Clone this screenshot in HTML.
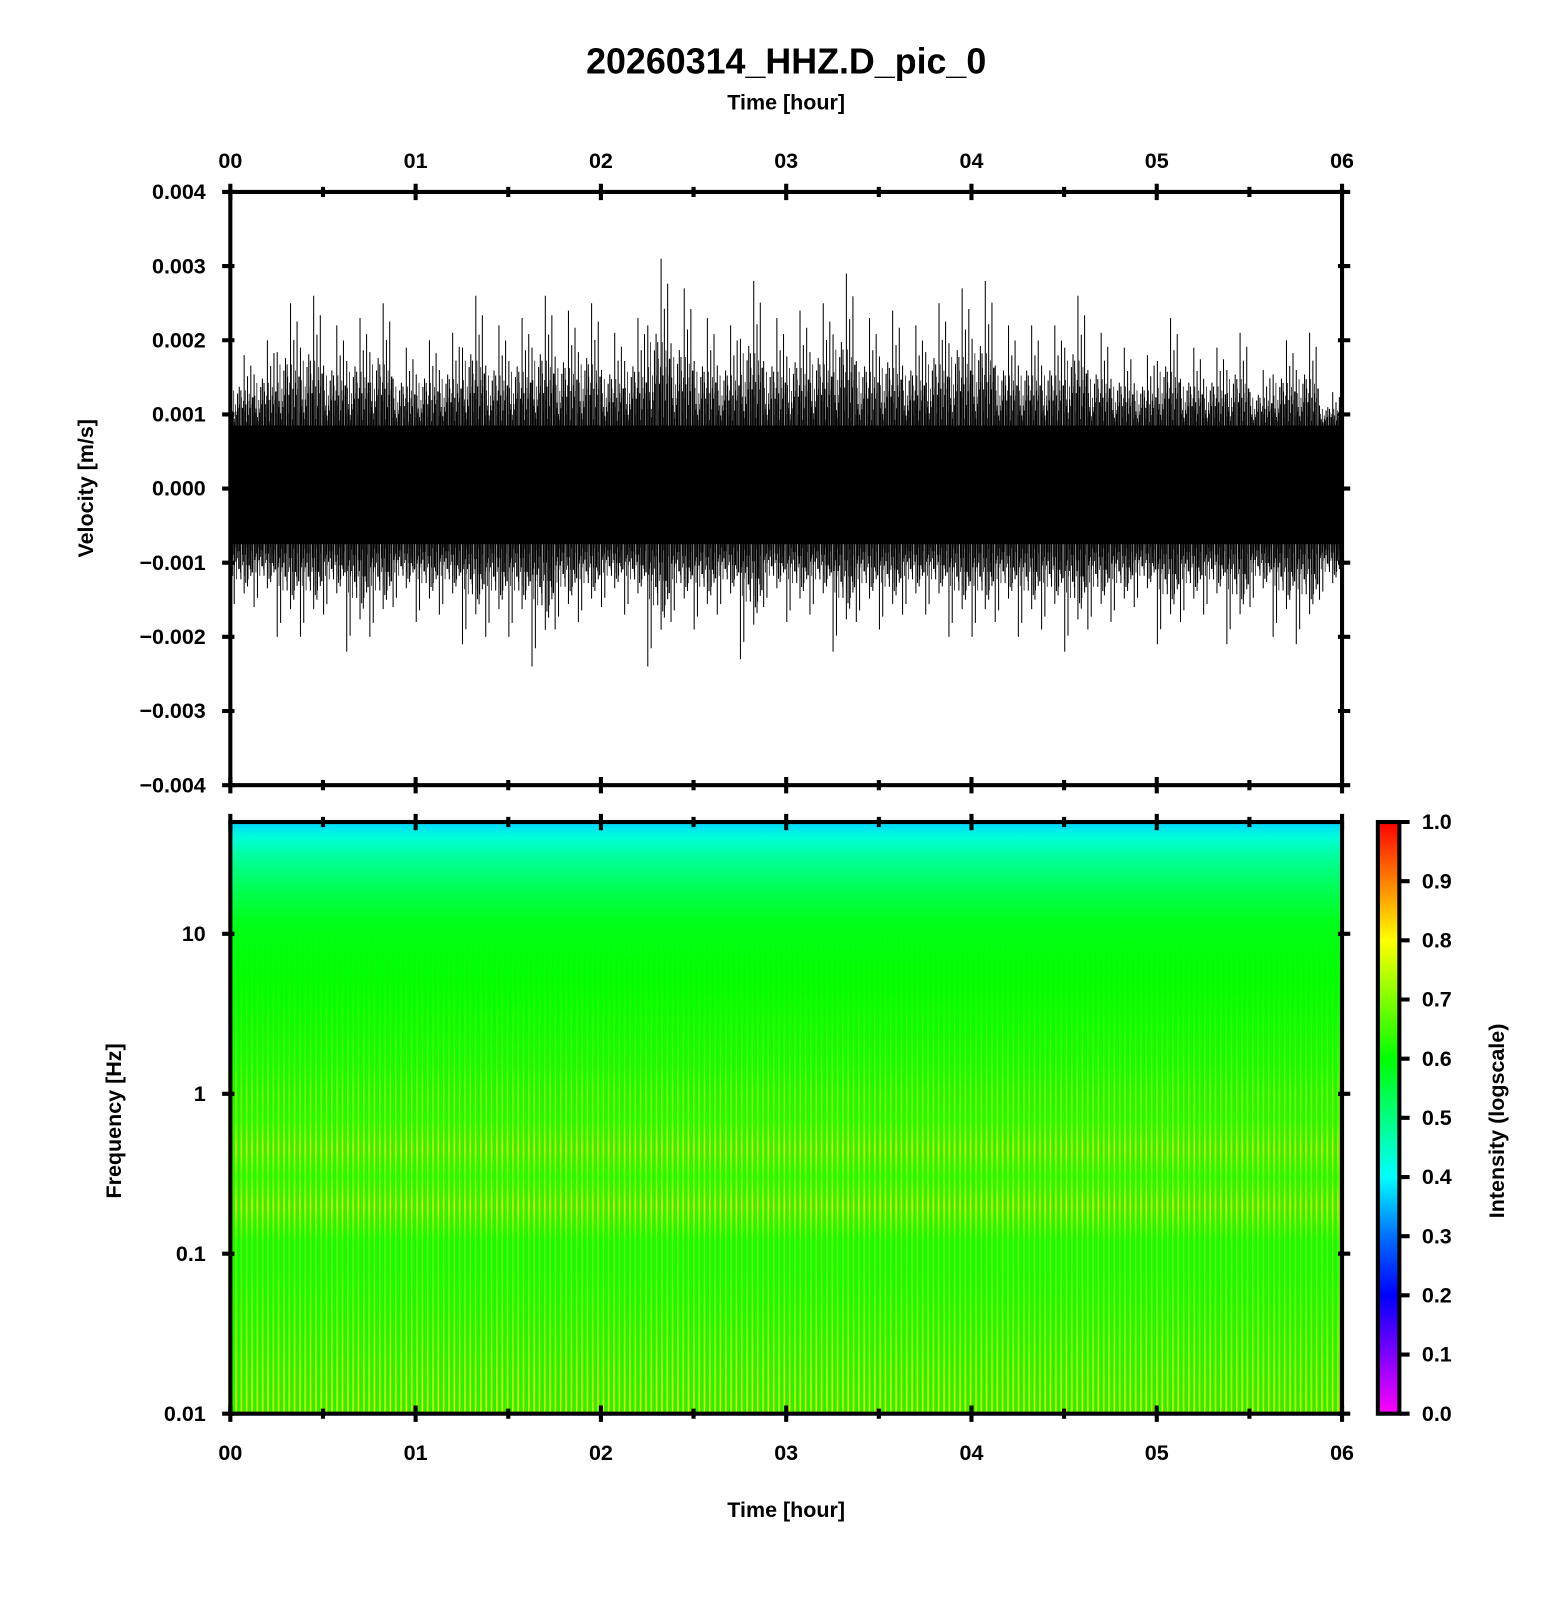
<!DOCTYPE html>
<html><head><meta charset="utf-8">
<style>
html,body{margin:0;padding:0;background:#fff;}
svg{display:block;font-family:"Liberation Sans",Arial,sans-serif;font-weight:bold;}
</style></head>
<body>
<svg id="chart" xmlns="http://www.w3.org/2000/svg" width="1556" height="1600" viewBox="0 0 1520 1563">
  <defs>
    <linearGradient id="cbar" x1="0" y1="1" x2="0" y2="0">
      <stop offset="0" stop-color="#ff00ff"/><stop offset="0.1" stop-color="#8000ff"/>
      <stop offset="0.2" stop-color="#0000ff"/><stop offset="0.3" stop-color="#0070ff"/>
      <stop offset="0.4" stop-color="#00ffff"/><stop offset="0.5" stop-color="#00ff80"/>
      <stop offset="0.6" stop-color="#00ff00"/><stop offset="0.7" stop-color="#80ff00"/>
      <stop offset="0.8" stop-color="#ffff00"/><stop offset="0.9" stop-color="#ff8000"/>
      <stop offset="1" stop-color="#ff0000"/>
    </linearGradient>
    <pattern id="stripes" width="5.2" height="10" patternUnits="userSpaceOnUse">
      <rect x="1" y="0" width="1.6" height="10" fill="#ffff00"/>
      <rect x="2.6" y="0" width="0.9" height="10" fill="#ff9000"/>
    </pattern>
  </defs>
  <text x="768" y="72" font-size="35" text-anchor="middle">20260314_HHZ.D_pic_0</text>
  <text x="768" y="107" font-size="21" text-anchor="middle">Time [hour]</text>
  <text x="768" y="1482" font-size="21" text-anchor="middle">Time [hour]</text>
  <text transform="translate(91,477) rotate(-90)" font-size="21" text-anchor="middle">Velocity [m/s]</text>
  <text transform="translate(118,1095) rotate(-90)" font-size="21" text-anchor="middle">Frequency [Hz]</text>
  <text transform="translate(1469,1095) rotate(-90)" font-size="21" text-anchor="middle">Intensity (logscale)</text>
  <g id="wave"></g>
  <g id="spec"></g>
  <g id="axes"></g>
</svg>
<script>
const hourTicks = ["00","01","02","03","04","05","06"];
const velTicks = [0.004,0.003,0.002,0.001,0,-0.001,-0.002,-0.003,-0.004];
const velLabels = ["0.004","0.003","0.002","0.001","0.000","\u22120.001","\u22120.002","\u22120.003","\u22120.004"];
const freqTicks = [10,1,0.1,0.01];
const freqLabels = ["10","1","0.1","0.01"];
const cbarTicks = [0,0.1,0.2,0.3,0.4,0.5,0.6,0.7,0.8,0.9,1.0];
const upperPeak = [0.0018,0.0020,0.0025,0.0026,0.0022,0.0023,0.0025,0.0019,0.0020,0.0021,0.0026,0.0022,0.0023,0.0026,0.0024,0.0025,0.0021,0.0023,0.0031,0.0027,0.0023,0.0022,0.0028,0.0023,0.0024,0.0025,0.0029,0.0023,0.0024,0.0022,0.0025,0.0027,0.0028,0.0022,0.0022,0.0022,0.0026,0.0021,0.0019,0.0018,0.0023,0.0019,0.0019,0.0021,0.0016,0.0020,0.0021,0.0013];
const lowerPeak = [0.0017,0.0016,0.0020,0.0020,0.0017,0.0022,0.0020,0.0016,0.0018,0.0017,0.0021,0.0020,0.0020,0.0024,0.0019,0.0018,0.0016,0.0017,0.0024,0.0018,0.0019,0.0017,0.0023,0.0016,0.0018,0.0017,0.0022,0.0018,0.0019,0.0017,0.0017,0.0020,0.0020,0.0018,0.0020,0.0019,0.0022,0.0019,0.0018,0.0016,0.0021,0.0018,0.0017,0.0021,0.0016,0.0020,0.0021,0.0015];
const coreUpper = 0.00085;
const coreLower = 0.00075;
const specFreqs = [50,40,30,20,12,5,1.5,1,0.7,0.45,0.3,0.2,0.12,0.08,0.04,0.02,0.01];
const specIntensity = [0.37,0.43,0.48,0.53,0.58,0.6,0.61,0.61,0.62,0.62,0.62,0.62,0.61,0.61,0.61,0.61,0.61];
const stripeStrength = [0,0,0,0,0,0.05,0.25,0.45,0.35,0.75,0.35,0.8,0.3,0.3,0.45,0.65,0.8];

const NS="http://www.w3.org/2000/svg";
const X0=225,X1=1311,TY0=187.5,TY1=767,SY0=803,SY1=1381;
const xH=h=>X0+(X1-X0)*h/6;
const yV=v=>TY0+(TY1-TY0)*(0.004-v)/0.008;
const FMAX=50,FMIN=0.01;
const yF=f=>SY1-(SY1-SY0)*(Math.log10(f)-Math.log10(FMIN))/(Math.log10(FMAX)-Math.log10(FMIN));
const CB0=1346,CB1=1367;
const yC=c=>SY1-(SY1-SY0)*c;
function mk(tag,attrs,parent){const e=document.createElementNS(NS,tag);for(const k in attrs)e.setAttribute(k,attrs[k]);parent.appendChild(e);return e;}
function cmap(c){const st=[[255,0,255],[128,0,255],[0,0,255],[0,112,255],[0,255,255],[0,255,128],[0,255,0],[128,255,0],[255,255,0],[255,128,0],[255,0,0]];
 const p=Math.max(0,Math.min(0.9999,c))*10,i=Math.floor(p),t=p-i,a=st[i],b=st[i+1];
 return `rgb(${Math.round(a[0]+(b[0]-a[0])*t)},${Math.round(a[1]+(b[1]-a[1])*t)},${Math.round(a[2]+(b[2]-a[2])*t)})`;}

// waveform
const wave=document.getElementById('wave');
const core=mk('rect',{x:X0,y:yV(coreUpper),width:X1-X0,height:yV(-coreLower)-yV(coreUpper),fill:'#000'},wave);


const frac=[1,0.35,0.6,0.2,0.5,0.3,0.85,0.15,0.45,0.25,0.7,0.4,0.1,0.55];
const n=upperPeak.length;
let d='';
for(let i=0;i<n;i++){
  const h0=6*i/n,h1=6*(i+1)/n;
  for(let k=0;k<frac.length;k++){
    const h=h0+(h1-h0)*(k+0.37)/frac.length;
    const x=xH(h).toFixed(1);
    const up=coreUpper+(upperPeak[i]-coreUpper)*frac[(k*5+2)%frac.length];
    const lo=coreLower+(lowerPeak[i]-coreLower)*frac[(k*3)%frac.length];
    d+=`M${x} ${yV(up).toFixed(1)}V${yV(-lo).toFixed(1)}`;
  }
}
const sp=mk('path',{d:d,stroke:'#000','stroke-width':1},wave);


let d2='';
const pat=[0.1,0.45,0.2,0.3,0.05,0.4,0.15,0.35,0.25,0.5,0.0,0.3];
for(let i=0;i<n;i++){
  const h0=6*i/n,h1=6*(i+1)/n;
  for(let k=0;k<24;k++){
    const x=xH(h0+(h1-h0)*(k+0.5)/24).toFixed(1);
    const up=coreUpper+(upperPeak[i]-coreUpper)*pat[(k*7)%pat.length];
    const lo=coreLower+(lowerPeak[i]-coreLower)*pat[(k*5+3)%pat.length];
    d2+=`M${x} ${yV(up).toFixed(1)}V${yV(-lo).toFixed(1)}`;
  }
}
const dense=mk('path',{d:d2,stroke:'#000','stroke-width':0.7},wave);



// spectrogram
const spec=document.getElementById('spec');
const grad=mk('linearGradient',{id:'specgrad',x1:0,y1:SY0,x2:0,y2:SY1,gradientUnits:'userSpaceOnUse'},document.querySelector('defs'));
const sgrad=mk('linearGradient',{id:'stripegrad',x1:0,y1:SY0,x2:0,y2:SY1,gradientUnits:'userSpaceOnUse'},document.querySelector('defs'));
for(let i=0;i<specFreqs.length;i++){
  const off=((yF(specFreqs[i])-SY0)/(SY1-SY0)).toFixed(4);
  mk('stop',{offset:off,'stop-color':cmap(specIntensity[i])},grad);
  const g=Math.round(255*stripeStrength[i]);
  mk('stop',{offset:off,'stop-color':`rgb(${g},${g},${g})`},sgrad);
}
const mask=mk('mask',{id:'stripemask',maskUnits:'userSpaceOnUse',x:X0,y:SY0,width:X1-X0,height:SY1-SY0},document.querySelector('defs'));
mk('rect',{x:X0,y:SY0,width:X1-X0,height:SY1-SY0,fill:'url(#stripegrad)'},mask);
const bg=mk('rect',{x:X0,y:SY0,width:X1-X0,height:SY1-SY0,fill:'url(#specgrad)'},spec);


const st=mk('rect',{x:X0,y:SY0,width:X1-X0,height:SY1-SY0,fill:'url(#stripes)',mask:'url(#stripemask)'},spec);


const cb=mk('rect',{x:CB0,y:SY0,width:CB1-CB0,height:SY1-SY0,fill:'url(#cbar)'},spec);



// axes
const ax=document.getElementById('axes');
function frame(y0,y1,name){const r=mk('rect',{x:X0,y:y0,width:X1-X0,height:y1-y0,fill:'none',stroke:'#000','stroke-width':4},ax);
 }
frame(TY0,TY1,'waveform-frame');frame(SY0,SY1,'spectrogram-frame');
const cbf=mk('rect',{x:CB0,y:SY0,width:CB1-CB0,height:SY1-SY0,fill:'none',stroke:'#000','stroke-width':4},ax);


let td='';
for(let i=0;i<=12;i++){
  const x=xH(i/2),big=i%2===0,L=big?8:5;
  td+=`M${x} ${TY0-L}V${TY0+L}M${x} ${TY1-L}V${TY1+L}M${x} ${SY0-L}V${SY0+L}M${x} ${SY1-L}V${SY1+L}`;
}
velTicks.forEach(v=>{const y=yV(v);td+=`M${X0-8} ${y}H${X0+4}M${X1-4} ${y}H${X1+8}`;});
freqTicks.forEach(f=>{const y=yF(f);td+=`M${X0-8} ${y}H${X0+4}M${X1-4} ${y}H${X1+8}`;});
cbarTicks.forEach(c=>{const y=yC(c);td+=`M${CB1} ${y}H${CB1+10}`;});
const tk=mk('path',{d:td,stroke:'#000','stroke-width':4},ax);


hourTicks.forEach((t,i)=>{
  const a=mk('text',{x:xH(i),y:164,'font-size':21,'text-anchor':'middle'},ax);a.textContent=t;
  
  
  const b=mk('text',{x:xH(i),y:1426,'font-size':21,'text-anchor':'middle'},ax);b.textContent=t;
  
  
});
velTicks.forEach((v,i)=>{const t=mk('text',{x:X0-24,y:yV(v)+7,'font-size':21,'text-anchor':'end'},ax);t.textContent=velLabels[i];
  
  });
freqTicks.forEach((f,i)=>{const t=mk('text',{x:X0-24,y:yF(f)+7,'font-size':21,'text-anchor':'end'},ax);t.textContent=freqLabels[i];
  
  });
cbarTicks.forEach(c=>{const t=mk('text',{x:CB1+22,y:yC(c)+7,'font-size':21},ax);t.textContent=c.toFixed(1);
  
  });
</script>
</body></html>
